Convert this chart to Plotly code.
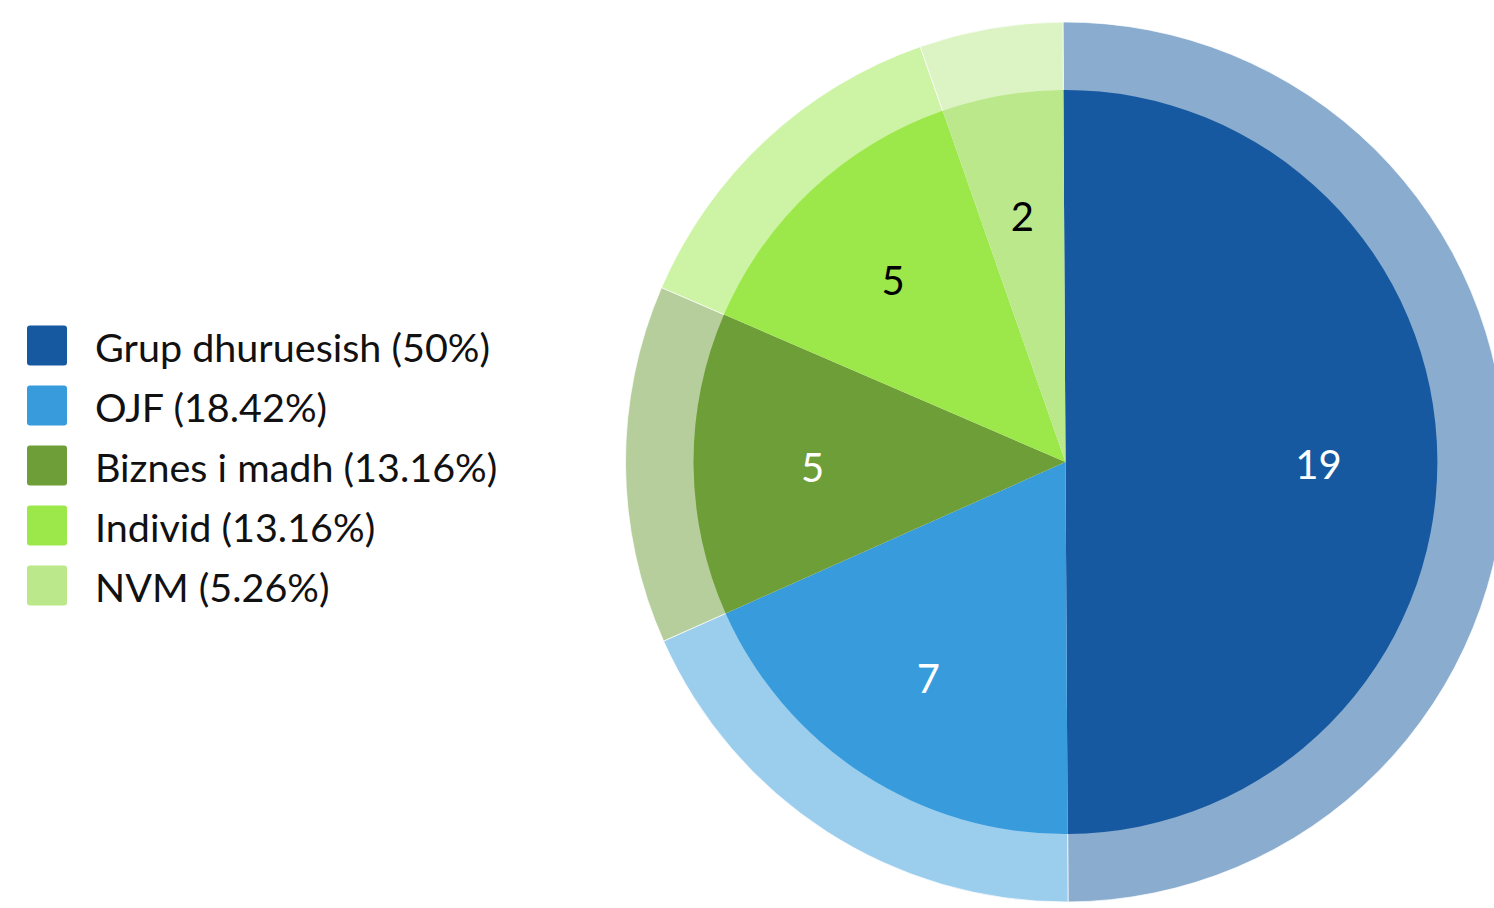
import plotly.graph_objects as go

# ---- data ----
categories = ["Grup dhuruesish", "OJF", "Biznes i madh", "Individ", "NVM"]
counts = [19, 7, 5, 5, 2]
colors = ["#1659A0", "#379BDC", "#6E9E37", "#9CE74A", "#BAE88A"]
label_colors = ["white", "white", "white", "black", "black"]

# figure canvas (a bit wider than the window: the outer ring is cut by the right edge)
W, H = 1510, 908
FONT = "Lato"

total = sum(counts)
pcts = [v / total * 100 for v in counts]


def fmt_pct(p):
    s = f"{p:.2f}".rstrip("0").rstrip(".")
    return s + "%"


def rgba(hexc, a):
    h = hexc.lstrip("#")
    r, g, b = int(h[0:2], 16), int(h[2:4], 16), int(h[4:6], 16)
    return f"rgba({r},{g},{b},{a})"


def domain(cx, cy, r):
    return dict(x=[max(0, (cx - r) / W), min(1, (cx + r) / W)],
                y=[max(0, (H - cy - r) / H), min(1, (H - cy + r) / H)])


# geometry (pixels)
cx, cy = 1065.5, 462
R_outer = 440
R_inner = 372
R_text = 294.2
TEXT_DY = 3.5
ROT = -0.33

fig = go.Figure()

# outer translucent ring
fig.add_trace(go.Pie(
    labels=categories, values=counts, sort=False, direction="clockwise", rotation=ROT,
    hole=R_inner / R_outer * 0.995,
    marker=dict(colors=[rgba(c, 0.5) for c in colors],
                line=dict(color="rgba(255,255,255,0.7)", width=1)),
    textinfo="none", hoverinfo="skip", showlegend=False,
    domain=domain(cx, cy, R_outer),
))

# inner solid pie
fig.add_trace(go.Pie(
    labels=categories, values=counts, sort=False, direction="clockwise", rotation=ROT,
    marker=dict(colors=colors, line=dict(width=0)),
    textinfo="none", showlegend=False,
    domain=domain(cx, cy, R_inner),
))

# transparent ring only used to place the value labels
fig.add_trace(go.Pie(
    labels=categories, values=counts, sort=False, direction="clockwise", rotation=ROT,
    hole=0.72,
    marker=dict(colors=["rgba(0,0,0,0)"] * len(counts), line=dict(width=0)),
    textinfo="value", textposition="inside", insidetextorientation="horizontal",
    insidetextfont=dict(family=FONT, size=40, color=label_colors),
    hoverinfo="skip", showlegend=False,
    domain=domain(cx, cy + TEXT_DY, R_text),
))


def rounded_rect(x0, y0, x1, y1, r):
    # pixel coords (y down) -> paper path
    def P(x, y):
        return f"{x / W:.6f},{(H - y) / H:.6f}"
    return (f"M{P(x0 + r, y0)} L{P(x1 - r, y0)} Q{P(x1, y0)} {P(x1, y0 + r)} "
            f"L{P(x1, y1 - r)} Q{P(x1, y1)} {P(x1 - r, y1)} "
            f"L{P(x0 + r, y1)} Q{P(x0, y1)} {P(x0, y1 - r)} "
            f"L{P(x0, y0 + r)} Q{P(x0, y0)} {P(x0 + r, y0)} Z")


# custom legend (large square swatches)
row0, row_gap = 345.5, 60
sq = 40
shapes, annotations = [], []
for i, (cat, col, p) in enumerate(zip(categories, colors, pcts)):
    yc = row0 + i * row_gap
    shapes.append(dict(type="path", xref="paper", yref="paper",
                       path=rounded_rect(27, yc - sq / 2, 27 + sq, yc + sq / 2, 3),
                       fillcolor=col, line=dict(width=0)))
    annotations.append(dict(xref="paper", yref="paper", x=93 / W, y=(H - yc - 1) / H,
                            xanchor="left", yanchor="middle", showarrow=False,
                            text=f"{cat} ({fmt_pct(p)})",
                            font=dict(family=FONT, size=39.5, color="#111111")))

fig.update_layout(
    width=W, height=H, autosize=False,
    margin=dict(l=0, r=0, t=0, b=0),
    paper_bgcolor="white", plot_bgcolor="white",
    shapes=shapes, annotations=annotations,
    showlegend=False,
)

fig.write_html(
    "out.html",
    config={"displayModeBar": False},
    post_script="document.body.style.margin='0';document.body.style.overflow='hidden';",
)
